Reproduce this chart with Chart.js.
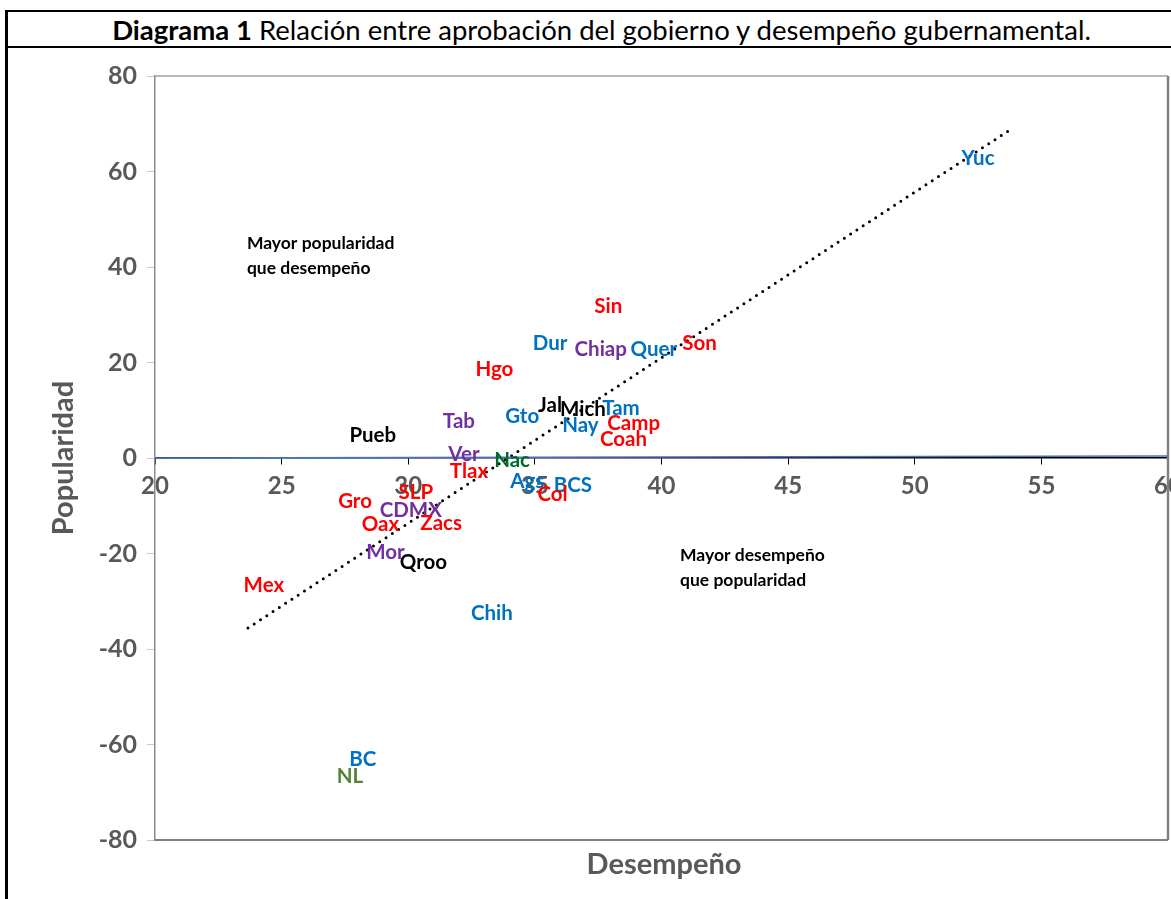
<!DOCTYPE html>
<html lang="es">
<head>
<meta charset="utf-8">
<script src="https://cdn.jsdelivr.net/npm/chart.js@4.4.1/dist/chart.umd.min.js"></script>
<style>
  body { margin: 0; background: #fff; width: 1171px; height: 899px; overflow: hidden; position: relative; font-family: Lato, sans-serif; }
  #chart { position: absolute; left: 0; top: 0; }
  .rule { position: absolute; background: #000; }
  #title { position: absolute; left: 20px; width: 1163px; top: 13px; text-align: center; font-size: 27.5px; line-height: 34px; color: #000; white-space: nowrap; }
</style>
</head>
<body>
<div class="rule" style="left:5px;top:10px;width:3px;height:889px"></div>
<div class="rule" style="left:5px;top:10px;width:1166px;height:2px"></div>
<div class="rule" style="left:5px;top:46px;width:1166px;height:2px"></div>
<div id="title"><b>Diagrama 1</b> Relación entre aprobación del gobierno y desempeño gubernamental.</div>
<canvas id="chart" width="1171" height="899"></canvas>
<script>
// entidades, desempeño (x) y popularidad (y)
const estados = ['Yuc', 'Sin', 'Son', 'Dur', 'Chiap', 'Quer', 'Hgo', 'Jal', 'Mich', 'Tam', 'Gto',
  'Nay', 'Camp', 'Coah', 'Tab', 'Pueb', 'Ver', 'Nac', 'Tlax', 'Ags', 'BCS', 'Col', 'SLP', 'Gro',
  'CDMX', 'Oax', 'Zacs', 'Mor', 'Qroo', 'Mex', 'Chih', 'BC', 'NL'];
const desempeno = [52.5, 37.9, 41.5, 35.6, 37.6, 39.7, 33.4, 35.6, 36.9, 38.4, 34.5,
  36.8, 38.9, 38.5, 32.0, 28.6, 32.2, 34.1, 32.4, 34.7, 36.5, 35.7, 30.3, 27.9,
  30.1, 28.9, 31.3, 29.1, 30.6, 24.3, 33.3, 28.2, 27.7];
const popularidad = [62.8, 31.8, 24.1, 24.1, 22.8, 22.8, 18.6, 11.1, 10.1, 10.3, 8.8,
  6.9, 7.3, 3.8, 7.7, 4.8, 0.8, -0.6, -2.9, -4.8, -5.7, -7.7, -7.3, -9.0,
  -10.9, -13.8, -13.6, -19.7, -21.8, -26.6, -32.5, -63.2, -66.6];
const colorEstado = ['#0070C0', '#FF0000', '#FF0000', '#0070C0', '#7030A0', '#0070C0', '#FF0000', '#000000', '#000000', '#0070C0', '#0070C0',
  '#0070C0', '#FF0000', '#FF0000', '#7030A0', '#000000', '#7030A0', '#006A2A', '#FF0000', '#0070C0', '#0070C0', '#FF0000', '#FF0000', '#FF0000',
  '#7030A0', '#FF0000', '#FF0000', '#7030A0', '#000000', '#FF0000', '#0070C0', '#0070C0', '#548235'];

// línea de tendencia y línea en cero
const tendenciaX = [23.67, 53.87];
const tendenciaY = [-35.6, 69.1];
const ceroX = [19.7, 60];
const ceroY = [0, 0.4];

// ejes
const xTicks = [20, 25, 30, 35, 40, 45, 50, 55, 60];
const yTicks = [-80, -60, -40, -20, 0, 20, 40, 60, 80];

// notas dentro del gráfico
const notas = [['Mayor popularidad', 'que desempeño'], ['Mayor desempeño', 'que popularidad']];
const notasX = [23.63, 40.73];
const notasY = [45.0, -20.3];

const gris = '#595959';

const etiquetas = {
  id: 'etiquetas',
  beforeDatasetsDraw(chart) {
    const { ctx, chartArea: a } = chart;
    ctx.save();
    ctx.strokeStyle = '#A0A0A0';
    ctx.lineWidth = 1.5;
    ctx.beginPath();
    ctx.moveTo(a.left, a.top); ctx.lineTo(a.right, a.top);
    ctx.stroke();
    ctx.strokeStyle = '#808080';
    ctx.lineWidth = 2.5;
    ctx.beginPath();
    ctx.moveTo(a.right, a.top); ctx.lineTo(a.right, a.bottom);
    ctx.stroke();
    ctx.lineWidth = 2;
    ctx.beginPath();
    ctx.moveTo(a.left, a.bottom); ctx.lineTo(a.right, a.bottom);
    ctx.stroke();
    ctx.restore();
  },
  afterDatasetsDraw(chart) {
    const { ctx, scales: { x, y } } = chart;
    ctx.save();
    ctx.textAlign = 'center';
    ctx.textBaseline = 'middle';
    ctx.font = 'bold 20.5px Lato';
    estados.forEach((e, i) => {
      ctx.fillStyle = colorEstado[i];
      ctx.fillText(e, x.getPixelForValue(desempeno[i]), y.getPixelForValue(popularidad[i]));
    });
    ctx.fillStyle = '#000';
    ctx.textAlign = 'left';
    ctx.font = 'bold 17.5px Lato';
    notas.forEach((lineas, i) => {
      const px = x.getPixelForValue(notasX[i]);
      const py = y.getPixelForValue(notasY[i]);
      lineas.forEach((t, j) => ctx.fillText(t, px, py + j * 25));
    });
    // títulos de ejes
    ctx.fillStyle = gris;
    ctx.textAlign = 'center';
    ctx.font = 'bold 29px Lato';
    ctx.fillText('Desempeño', 664, 865);
    ctx.translate(64, 458);
    ctx.rotate(-Math.PI / 2);
    ctx.fillText('Popularidad', 0, 0);
    ctx.restore();
  }
};

new Chart(document.getElementById('chart'), {
  type: 'scatter',
  data: {
    datasets: [{
      label: 'Estados',
      data: desempeno.map((v, i) => ({ x: v, y: popularidad[i] })),
      pointRadius: 0,
      showLine: false
    }, {
      label: 'Cero',
      data: ceroX.map((v, i) => ({ x: v, y: ceroY[i] })),
      showLine: true,
      borderColor: '#4472C4',
      borderWidth: 1.5,
      pointRadius: 0
    }, {
      label: 'Tendencia',
      data: tendenciaX.map((v, i) => ({ x: v, y: tendenciaY[i] })),
      showLine: true,
      borderColor: '#000',
      borderWidth: 3,
      borderDash: [0, 7.5],
      borderCapStyle: 'round',
      pointRadius: 0
    }]
  },
  options: {
    responsive: false,
    animation: false,
    devicePixelRatio: 1,
    layout: { padding: { top: 76, right: 3, bottom: 59, left: 0 } },
    plugins: { legend: { display: false }, tooltip: { enabled: false } },
    scales: {
      x: {
        type: 'linear',
        min: xTicks[0],
        max: xTicks[xTicks.length - 1],
        position: { y: 0 },
        afterBuildTicks: s => { s.ticks = xTicks.map(v => ({ value: v })); },
        afterFit: s => { s.paddingLeft = 0; s.paddingRight = 0; },
        ticks: { autoSkip: false, maxRotation: 0, color: gris, font: { family: 'Lato', size: 24, weight: 'bold' }, padding: 8 },
        grid: { drawOnChartArea: false, drawTicks: true, tickLength: 6, color: '#000' },
        border: { color: '#000', width: 1.5 }
      },
      y: {
        type: 'linear',
        min: yTicks[0],
        max: yTicks[yTicks.length - 1],
        afterBuildTicks: s => { s.ticks = yTicks.map(v => ({ value: v })); },
        afterFit: s => { s.width = 155; },
        ticks: { color: gris, font: { family: 'Lato', size: 25, weight: 'bold' }, padding: 10 },
        grid: { drawOnChartArea: false, drawTicks: true, tickLength: 8, color: '#C8C8C8' },
        border: { color: '#8C8C8C', width: 1.5 }
      }
    }
  },
  plugins: [etiquetas]
});
</script>
</body>
</html>
